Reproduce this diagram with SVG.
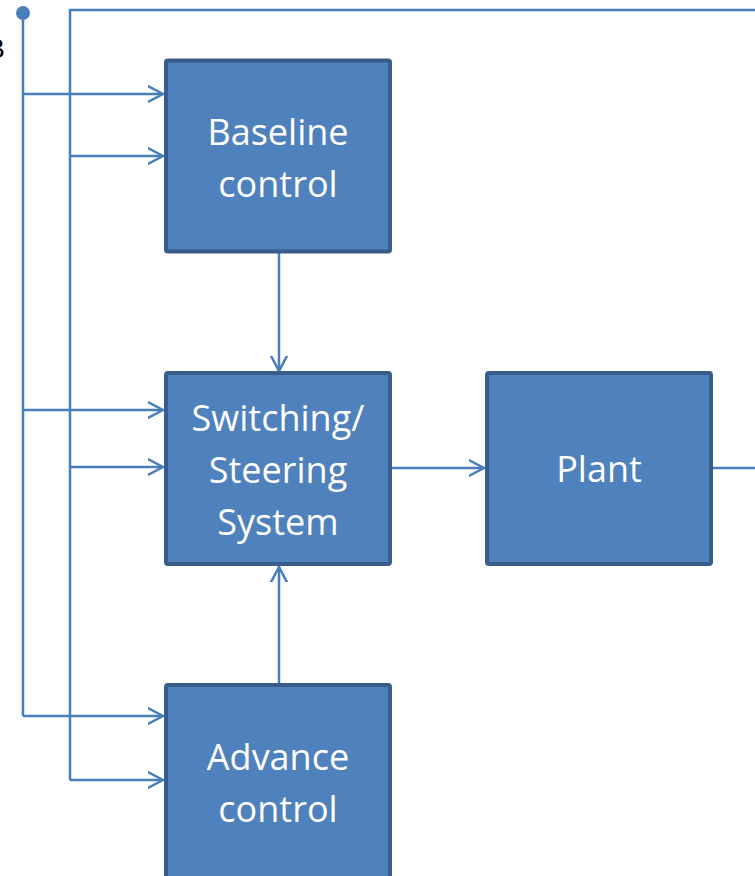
<svg xmlns="http://www.w3.org/2000/svg" width="755" height="876" viewBox="0 0 755 876">
<defs>
<style>
.box{fill:#4f81bd;stroke:#385d8a;stroke-width:4}
.lbl{fill:#ffffff;font-family:"Open Sans","Liberation Sans",sans-serif;font-size:36px;text-anchor:middle}
.ln{fill:none;stroke:#4a7ebb;stroke-width:2.5}
</style>
<marker id="arr" markerUnits="userSpaceOnUse" markerWidth="30" markerHeight="30" viewBox="-15 -15 30 30" refX="0" refY="0" orient="auto">
<path d="M-19,-10 L0,0 L-19,10" fill="none" stroke="#4a7ebb" stroke-width="2.5"/>
</marker>
</defs>
<rect width="755" height="876" fill="#ffffff"/>
<text x="5" y="58" font-family="Liberation Sans, sans-serif" font-size="28" fill="#000000" text-anchor="end">B</text>
<g id="connectors">
<circle cx="23" cy="13" r="7" fill="#4a7ebb"/>
<path class="ln" d="M23,13 V716"/>
<path class="ln" d="M70,780 V10 H755"/>
<path class="ln" d="M23,94 H163" marker-end="url(#arr)"/>
<path class="ln" d="M70,156 H163" marker-end="url(#arr)"/>
<path class="ln" d="M23,410 H163" marker-end="url(#arr)"/>
<path class="ln" d="M70,467 H163" marker-end="url(#arr)"/>
<path class="ln" d="M23,716 H163" marker-end="url(#arr)"/>
<path class="ln" d="M70,780 H163" marker-end="url(#arr)"/>
<path class="ln" d="M279,253 V371" marker-end="url(#arr)"/>
<path class="ln" d="M279,683 V567" marker-end="url(#arr)"/>
<path class="ln" d="M392,468 H484" marker-end="url(#arr)"/>
<path class="ln" d="M713,468 H755"/>
</g>
<g id="baseline">
<rect class="box" x="166" y="60.5" width="224" height="191" rx="2"/>
<text class="lbl" x="278" y="145">Baseline</text>
<text class="lbl" x="278" y="197">control</text>
</g>
<g id="switching">
<rect class="box" x="166" y="373" width="224" height="191" rx="2"/>
<text class="lbl" x="278" y="431">Switching/</text>
<text class="lbl" x="278" y="483">Steering</text>
<text class="lbl" x="278" y="535">System</text>
</g>
<g id="plant">
<rect class="box" x="487" y="373" width="224" height="191" rx="2"/>
<text class="lbl" x="599" y="482">Plant</text>
</g>
<g id="advance">
<rect class="box" x="166" y="685" width="224" height="220" rx="2"/>
<text class="lbl" x="278" y="770">Advance</text>
<text class="lbl" x="278" y="822">control</text>
</g>
</svg>
